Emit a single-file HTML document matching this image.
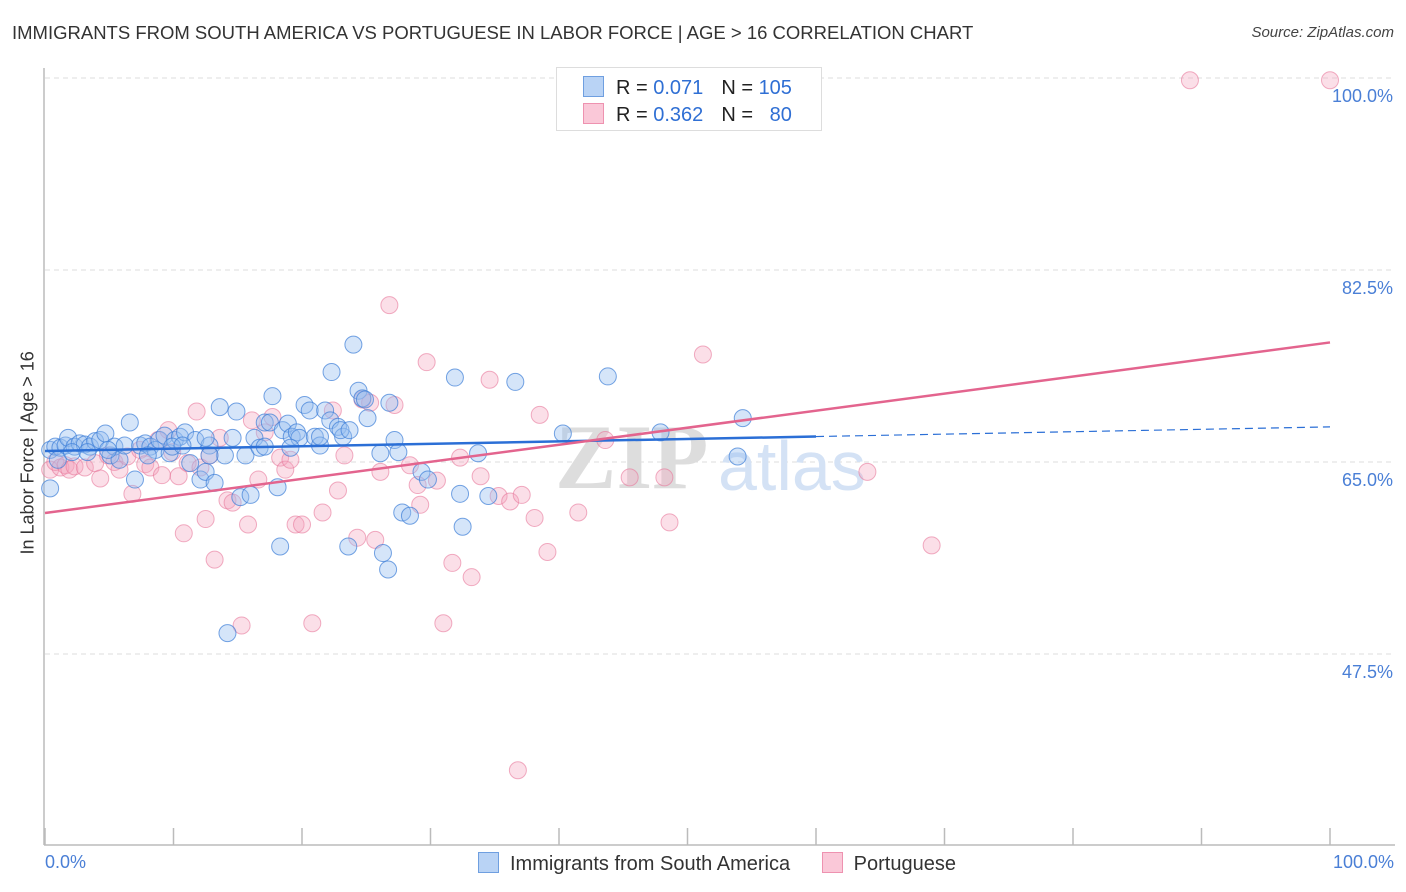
<!DOCTYPE html>
<html><head><meta charset="utf-8"><style>
body{margin:0;background:#fff;font-family:"Liberation Sans",sans-serif;}
#wrap{position:relative;width:1406px;height:892px;overflow:hidden;}
.t{position:absolute;white-space:nowrap;}
</style></head><body>
<div id="wrap">
<div class="t" style="left:12px;top:22px;font-size:18.5px;color:#333;">IMMIGRANTS FROM SOUTH AMERICA VS PORTUGUESE IN LABOR FORCE | AGE &gt; 16 CORRELATION CHART</div>
<div class="t" style="right:12px;top:24px;font-size:15px;color:#444;font-style:italic;">Source: ZipAtlas.com</div>
<svg id="svg" width="1406" height="892" style="position:absolute;left:0;top:0"></svg>
</div>
<script>
const yTicks=[100,82.5,65,47.5];
const yTickLabels=["100.0%","82.5%","65.0%","47.5%"];
const blueX=[0.4,0.8,1.2,1.6,1.8,2.3,2.7,3.1,3.5,3.9,4.3,4.7,5.1,5.4,5.8,6.2,6.6,7.0,7.4,7.8,8.2,8.6,8.9,9.3,9.7,10.1,10.5,10.9,11.3,11.7,12.1,12.5,12.8,13.2,13.6,14.0,14.2,14.6,14.9,15.2,15.6,16.0,16.3,16.7,17.1,17.5,17.7,18.1,18.3,18.5,18.9,19.2,19.6,19.8,20.2,20.6,21.0,21.4,21.8,22.2,22.3,22.8,23.2,23.6,24.0,24.4,24.7,24.9,25.1,26.1,26.3,26.7,26.8,27.2,27.5,27.8,28.4,29.3,29.8,31.9,32.3,32.5,33.7,34.5,36.6,40.3,43.8,47.9,53.9,54.3,0.4,1.0,2.1,3.3,4.9,8.0,9.9,10.7,12.5,12.8,17.1,19.1,21.4,23.0,23.7];
const blueY=[66.1,66.4,66.3,66.5,67.2,66.4,66.7,66.6,66.4,66.9,67.0,67.6,65.6,66.4,65.2,66.5,68.6,63.4,66.5,66.7,66.4,66.1,67.0,67.4,65.8,67.0,67.3,67.7,64.9,67.0,63.4,64.1,66.5,63.1,70.0,65.6,49.4,67.2,69.6,61.8,65.6,62.0,67.2,66.3,68.6,68.6,71.0,62.7,57.3,67.9,68.5,67.3,67.7,67.2,70.2,69.7,67.3,66.5,69.7,68.8,73.2,68.2,67.3,57.3,75.7,71.5,70.8,70.7,69.0,65.8,56.7,55.2,70.4,67.0,65.9,60.4,60.1,64.1,63.4,72.7,62.1,59.1,65.8,61.9,72.3,67.6,72.8,67.7,65.5,69.0,62.6,65.2,65.9,65.9,66.1,65.6,66.4,66.5,67.2,65.6,66.4,66.3,67.3,67.9,67.9];
const pinkX=[0.4,0.8,1.2,1.6,1.9,2.3,3.1,3.9,4.3,4.9,5.4,5.8,6.4,6.8,7.4,7.8,8.2,8.8,9.1,9.6,9.9,10.4,10.8,11.1,11.8,12.1,12.5,12.8,13.2,13.6,14.2,14.6,15.3,15.8,16.1,16.6,17.1,17.7,18.3,18.7,19.1,19.5,20.0,20.8,21.6,22.4,22.8,23.3,24.3,24.7,25.3,25.7,26.1,26.8,27.2,28.4,29.0,29.2,29.7,30.5,31.0,31.7,32.3,33.2,33.9,34.6,35.3,36.2,36.8,37.1,38.1,38.5,39.1,41.5,43.6,45.5,48.2,48.6,51.2,64.0,69.0,89.1,100];
const pinkY=[64.3,65.0,64.5,64.7,64.3,64.6,64.5,64.9,63.5,65.6,65.0,64.3,65.5,62.1,66.1,64.8,64.5,67.0,63.8,67.9,65.9,63.7,58.5,64.9,69.6,64.5,59.8,65.6,56.1,67.2,61.5,61.3,50.1,59.3,68.8,63.4,67.7,69.1,65.4,64.3,65.2,59.3,59.3,50.3,60.4,69.7,62.4,65.6,58.1,70.7,70.4,57.9,64.1,79.3,70.2,64.7,62.9,61.1,74.1,63.3,50.3,55.8,65.4,54.5,63.7,72.5,61.9,61.4,36.9,62.0,59.9,69.3,56.8,60.4,67.0,63.6,63.6,59.5,74.8,64.1,57.4,99.8,99.8];
const blueTrend=[66.0,68.2];
const pinkTrend=[60.35,75.9];
const svg=document.getElementById('svg');
const NS='http://www.w3.org/2000/svg';
const X=v=>45+v*12.85;
const Y=v=>462-(v-65)*10.97;
function mk(tag,at){const e=document.createElementNS(NS,tag);for(const k in at)e.setAttribute(k,at[k]);svg.appendChild(e);return e;}
yTicks.forEach((t,i)=>{
 const g=mk('line',{x1:45,x2:1395,y1:Y(t),y2:Y(t),stroke:'#ddd','stroke-dasharray':'5,4'});
 
 
 const tx=mk('text',{x:1393,y:Y(t)+24,'text-anchor':'end','font-size':18,fill:'#4a7fd6','font-family':'Liberation Sans'});
 tx.textContent=yTickLabels[i];
 
 
});
const ax=mk('line',{x1:44,x2:44,y1:68,y2:845,stroke:'#bbb','stroke-width':1.5});


const bx=mk('line',{x1:44,x2:1395,y1:845,y2:845,stroke:'#bbb','stroke-width':1.5});


for(let i=0;i<=10;i++){const tk=mk('line',{x1:X(i*10),x2:X(i*10),y1:828,y2:845,stroke:'#bbb','stroke-width':1.5});

}
const wm=mk('text',{x:555,y:488,'font-size':92,fill:'#ddd','font-family':'Liberation Serif','font-weight':'bold'});
wm.textContent='ZIP';


const wm2=mk('text',{x:718,y:490,'font-size':70,fill:'#d4e2f5','font-family':'Liberation Sans'});
wm2.textContent='atlas';


pinkX.forEach((x,i)=>{const c=mk('circle',{cx:X(x),cy:Y(pinkY[i]),r:8.5,fill:'rgba(244,164,190,0.35)',stroke:'rgba(232,120,155,0.6)','stroke-width':1});

});
blueX.forEach((x,i)=>{const c=mk('circle',{cx:X(x),cy:Y(blueY[i]),r:8.5,fill:'rgba(150,190,240,0.4)',stroke:'rgba(60,125,215,0.7)','stroke-width':1});

});
const bl=mk('line',{x1:X(0),y1:Y(blueTrend[0]),x2:X(60),y2:Y(blueTrend[0]+(blueTrend[1]-blueTrend[0])*0.6),stroke:'#2b6fd6','stroke-width':2.5});


const bd=mk('line',{x1:X(60),y1:Y(blueTrend[0]+(blueTrend[1]-blueTrend[0])*0.6),x2:X(100),y2:Y(blueTrend[1]),stroke:'#2b6fd6','stroke-width':1.2,'stroke-dasharray':'8,5'});


const pl=mk('line',{x1:X(0),y1:Y(pinkTrend[0]),x2:X(100),y2:Y(pinkTrend[1]),stroke:'#e3648e','stroke-width':2.5});


</script>
<div class="t" style="left:-72px;top:444px;width:200px;text-align:center;transform:rotate(-90deg);font-size:18px;color:#333;">In Labor Force | Age &gt; 16</div>
<div class="t" style="left:45px;top:852px;font-size:18px;color:#4a7fd6;">0.0%</div>
<div class="t" style="right:12px;top:852px;font-size:18px;color:#4a7fd6;">100.0%</div>
<div style="position:absolute;left:556px;top:67px;width:264px;height:62px;border:1px solid #ddd;background:#fff;font-size:20px;">
 <div style="position:absolute;left:26px;top:8px;white-space:nowrap;"><span style="display:inline-block;width:19px;height:19px;background:#b9d3f5;border:1px solid #6f9fe0;vertical-align:-3px;"></span><span style="margin-left:12px;color:#222;">R = </span><span style="color:#2f6fd4;">0.071</span><span style="margin-left:18px;color:#222;">N = </span><span style="color:#2f6fd4;">105</span></div>
 <div style="position:absolute;left:26px;top:35px;white-space:nowrap;"><span style="display:inline-block;width:19px;height:19px;background:#fac8d8;border:1px solid #ee92b0;vertical-align:-3px;"></span><span style="margin-left:12px;color:#222;">R = </span><span style="color:#2f6fd4;">0.362</span><span style="margin-left:18px;color:#222;">N = </span><span style="color:#2f6fd4;">&nbsp;&nbsp;80</span></div>
</div>
<div style="position:absolute;left:478px;top:852px;font-size:20px;color:#333;white-space:nowrap;">
 <span><span style="display:inline-block;width:19px;height:19px;background:#b9d3f5;border:1px solid #6f9fe0;vertical-align:-3px;"></span><span style="margin-left:11px;">Immigrants from South America</span></span>
 <span style="margin-left:26px;"><span style="display:inline-block;width:19px;height:19px;background:#fac8d8;border:1px solid #ee92b0;vertical-align:-3px;"></span><span style="margin-left:11px;">Portuguese</span></span>
</div>
</body></html>
